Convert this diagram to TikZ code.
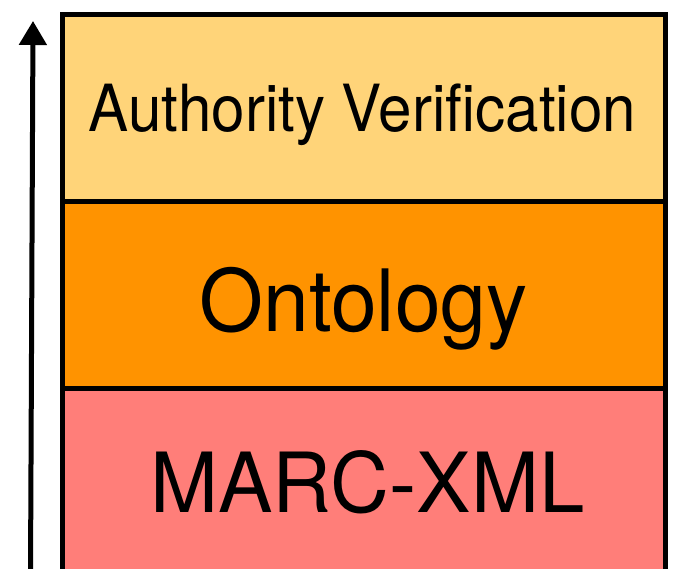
\documentclass[tikz,border=0pt]{standalone}
\usepackage{fontspec}
\setmainfont{TeX Gyre Heros}
\usetikzlibrary{arrows.meta}
\definecolor{cantaloupe}{HTML}{FFD479}
\definecolor{tangerine}{HTML}{FF9300}
\definecolor{salmon}{HTML}{FF7E79}
\tikzset{
  layer/.style={draw=black, line width=5pt, line join=miter},
  caption/.style={anchor=base, inner sep=0pt, text=black},
  axis/.style={line width=5pt, -{Triangle[length=24pt,width=27pt]}}
}
\begin{document}
\begin{tikzpicture}[x=1pt, y=-1pt]
  \useasboundingbox (0,0) rectangle (674,569);
  \clip (0,0) rectangle (674,569);
  % stacked layers, bottom one running off the page
  \path[layer, fill=salmon]     (62.5,388)   rectangle (665.5,620);
  \path[layer, fill=tangerine]  (62.5,201.5) rectangle (665.5,388);
  \path[layer, fill=cantaloupe] (62.5,14.5)  rectangle (665.5,201.5);
  % layer labels
  \node[caption, font=\fontsize{65}{70}\selectfont] (auth) at (362.5,131.7)
    {\scalebox{0.925}[1]{Authority Verification}};
  \node[caption, font=\fontsize{86}{90}\selectfont] (onto) at (363.5,331)
    {\scalebox{0.956}[1]{Ontology}};
  \node[caption, font=\fontsize{83}{88}\selectfont] (marc) at (367.5,512.7)
    {\scalebox{0.983}[1]{MARC-XML}};
  % upward axis
  \coordinate (axisfoot) at (30.5,575);
  \coordinate (axistip) at (33,21);
  \draw[axis] (axisfoot) -- (axistip);
\end{tikzpicture}
\end{document}
